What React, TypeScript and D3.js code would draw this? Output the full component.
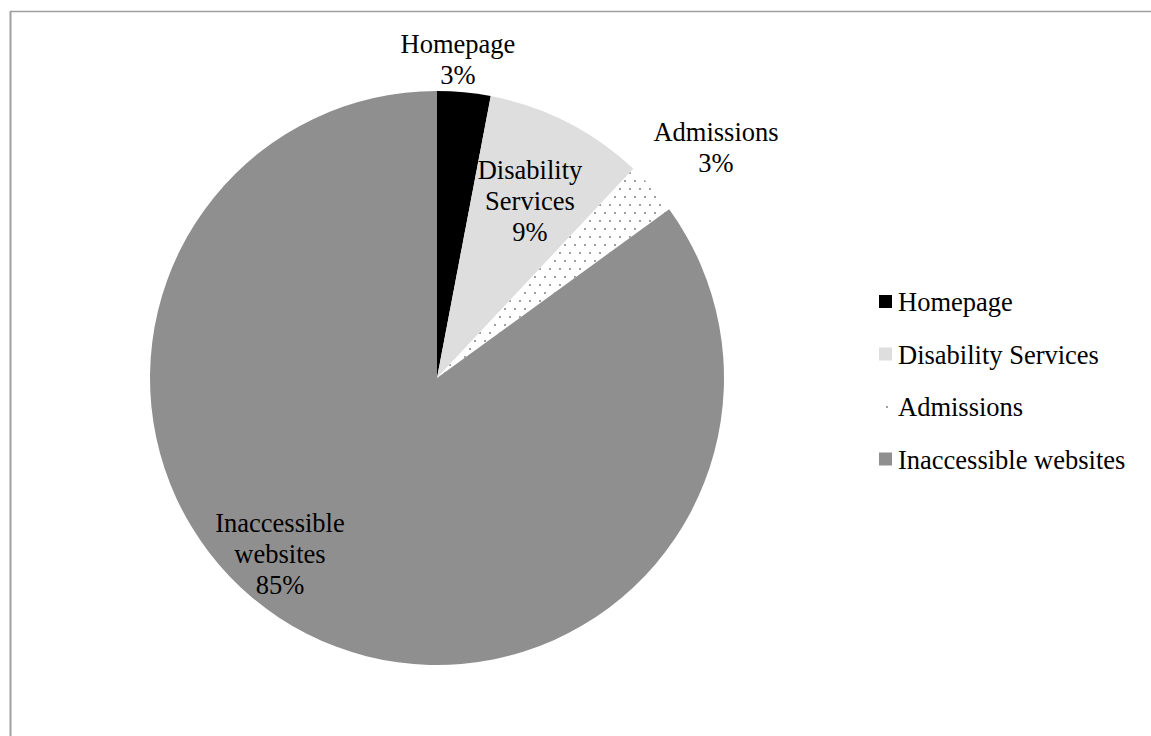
import React from "react";
import * as d3 from "d3";

const categories = ["Homepage", "Disability Services", "Admissions", "Inaccessible websites"];
const values = [3, 9, 3, 85];
const labelLines = [["Homepage", "3%"], ["Disability", "Services", "9%"], ["Admissions", "3%"], ["Inaccessible", "websites", "85%"]];
const fills = ["#000000", "#dedede", "url(#dots)", "#8f8f8f"];

const W = 1151, H = 736;
const cx = 437, cy = 378, R = 287;
const FONT = "'Liberation Serif', 'Times New Roman', serif";
const FS = 26.5;
const LH = 31;
// label anchor: x center, baseline of first line
const labelPos = [[458, 53], [530, 179], [716, 141], [280, 532]];

export default function App() {
  const pie = d3.pie<number>().sort(null).value((d) => d);
  const arcs = pie(values);
  const arc = d3.arc<d3.PieArcDatum<number>>().innerRadius(0).outerRadius(R);
  const legendX = 879, legendY0 = 302, legendStep = 52.5;
  return (
    <svg width={W} height={H} style={{ position: "absolute", left: 0, top: 0 }}>
      <defs>
        <pattern id="dots" width="10" height="16" patternUnits="userSpaceOnUse">
          <rect width="10" height="16" fill="#ffffff" />
          <rect x="2" y="2" width="2" height="2" fill="#a0a0a0" />
          <rect x="7" y="10" width="2" height="2" fill="#a0a0a0" />
        </pattern>
        <pattern id="dotsLegend" width="13" height="13" patternUnits="userSpaceOnUse">
          <rect width="13" height="13" fill="#ffffff" />
          <rect x="2" y="3" width="2" height="2" fill="#a0a0a0" />
        </pattern>
      </defs>
      <rect x={0} y={0} width={W} height={H} fill="#fff" />
      <line x1={10.5} y1={11} x2={10.5} y2={H} stroke="#a0a0a0" strokeWidth={2} />
      <line x1={10} y1={11.5} x2={W} y2={11.5} stroke="#a0a0a0" strokeWidth={1.5} />
      <g transform={`translate(${cx},${cy})`}>
        {arcs.map((a, i) => (
          <path key={i} d={arc(a) || ""} fill={fills[i]} />
        ))}
      </g>
      {labelLines.map((lines, i) => (
        <text key={i} fontFamily={FONT} fontSize={FS} textAnchor="middle" fill="#000">
          {lines.map((l, j) => (
            <tspan key={j} x={labelPos[i][0]} y={labelPos[i][1] + j * LH}>{l}</tspan>
          ))}
        </text>
      ))}
      {categories.map((c, i) => {
        const y = legendY0 + i * legendStep;
        return (
          <g key={c}>
            {i === 2 ? (
              <rect x={legendX} y={y - 7} width={13} height={13} fill="url(#dotsLegend)" />
            ) : (
              <rect x={legendX} y={y - 7} width={13} height={13} fill={fills[i]} />
            )}
            <text x={legendX + 19} y={y + 9} fontFamily={FONT} fontSize={FS} fill="#000">{c}</text>
          </g>
        );
      })}
    </svg>
  );
}
